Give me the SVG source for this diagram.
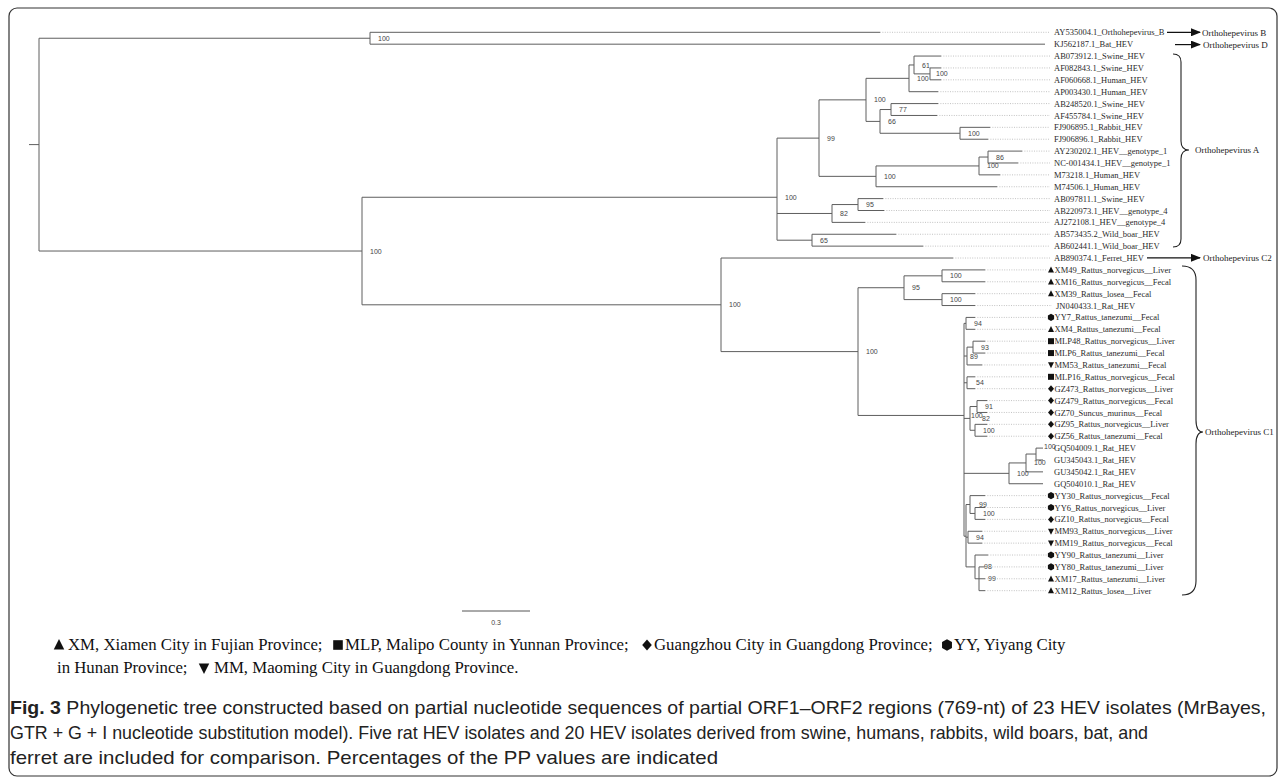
<svg xmlns="http://www.w3.org/2000/svg" xmlns:xlink="http://www.w3.org/1999/xlink" width="1285" height="784" viewBox="0 0 1285 784">
<style>
.br{stroke:#5e5e5e;stroke-width:1;fill:none}
.dt{stroke:#b4b4b4;stroke-width:0.8;stroke-dasharray:1 1.4;fill:none}
.lf{font-family:"Liberation Serif","Times New Roman",serif;font-size:8.5px;fill:#2a2a2a}
.bs{font-family:"Liberation Sans",Arial,sans-serif;font-size:7px;fill:#444}
.cl{font-family:"Liberation Serif","Times New Roman",serif;font-size:9px;fill:#222}
.lg{font-family:"Liberation Serif","Times New Roman",serif;font-size:16.8px;fill:#111}
.cap{font-family:"Liberation Sans Narrow","Liberation Sans",Arial,sans-serif;font-size:18.5px;fill:#222}
.arr{stroke:#111;stroke-width:1.2;fill:none}
.brace{stroke:#222;stroke-width:1.1;fill:none}
</style>
<defs>
<marker id="ah" markerWidth="10" markerHeight="8" refX="9" refY="4" orient="auto" markerUnits="userSpaceOnUse"><path d="M0,0L10,4L0,8Z" fill="#111"/></marker>
<g id="mtu"><polygon points="-3,2.6 3,2.6 0,-3.4" fill="#111"/></g>
<g id="mtd"><polygon points="-3,-2.6 3,-2.6 0,3.4" fill="#111"/></g>
<g id="msq"><rect x="-3" y="-3" width="6" height="6" fill="#111"/></g>
<g id="mdi"><polygon points="0,-3.5 3,0 0,3.5 -3,0" fill="#111"/></g>
<g id="mhx"><polygon points="0,-3.6 3.1,-1.8 3.1,1.8 0,3.6 -3.1,1.8 -3.1,-1.8" fill="#111"/></g>
</defs>
<rect x="9" y="8" width="1268" height="768" rx="8" fill="#fff" stroke="#333" stroke-width="1.2"/>

<g id="connectors">
<path class="br" d="M29,144.6H39M39,38.24V251.03M39,38.24H370M39,251.03H362"/>
<path class="br" d="M370,32.3V44.18M370,32.3H880M370,44.18H1045"/>
<path class="br" d="M362,197.26V304.8M362,197.26H777M362,304.8H721"/>
<path class="br" d="M777,138.11V240.2M777,138.11H819M777,213.47H832M777,240.2H812"/>
<path class="br" d="M819,99.87V176.35M819,99.87H866M819,176.35H876"/>
<path class="br" d="M866,78.34V121.4M866,78.34H909M866,121.4H880"/>
<path class="br" d="M909,64.97V91.7M909,64.97H914M909,91.7H938"/>
<path class="br" d="M914,56.06V73.88M914,56.06H941M914,73.88H930"/>
<path class="br" d="M930,67.94V79.82M930,67.94H941M930,79.82H941"/>
<path class="br" d="M880,109.52V133.28M880,109.52H891M880,133.28H960"/>
<path class="br" d="M891,103.58V115.46M891,103.58H938M891,115.46H937"/>
<path class="br" d="M960,127.34V139.22M960,127.34H990M960,139.22H988"/>
<path class="br" d="M876,165.95V186.74M876,165.95H979M876,186.74H997"/>
<path class="br" d="M979,157.04V174.86M979,157.04H988M979,174.86H1000"/>
<path class="br" d="M988,151.1V162.98M988,151.1H1022M988,162.98H1018"/>
<path class="br" d="M832,204.56V222.38M832,204.56H858M832,222.38H865"/>
<path class="br" d="M858,198.62V210.5M858,198.62H883M858,210.5H884"/>
<path class="br" d="M812,234.26V246.14M812,234.26H896M812,246.14H923"/>
<path class="br" d="M721,258.02V351.6M721,258.02H953M721,351.6H858"/>
<path class="br" d="M858,287.72V415.45M858,287.72H904M858,415.45H964"/>
<path class="br" d="M904,275.84V299.6M904,275.84H942M904,299.6H942"/>
<path class="br" d="M942,269.9V281.78M942,269.9H985M942,281.78H985"/>
<path class="br" d="M942,293.66V305.54M942,293.66H975M942,305.54H975"/>
<path class="br" d="M964,323.36V536.21M964,323.36H966M964,356.03H967M964,382.76H967M964,418.4H970M964,473.35H1009M964,536.21H966"/>
<path class="br" d="M966,317.42V329.3M966,317.42H975M966,329.3H975"/>
<path class="br" d="M967,347.12V364.94M967,347.12H973M967,364.94H982"/>
<path class="br" d="M973,341.18V353.06M973,341.18H985M973,353.06H985"/>
<path class="br" d="M967,376.82V388.7M967,376.82H975M967,388.7H975"/>
<path class="br" d="M970,406.52V430.28M970,406.52H977M970,430.28H975"/>
<path class="br" d="M977,400.58V412.46M977,400.58H987M977,412.46H987"/>
<path class="br" d="M975,424.34V436.22M975,424.34H987M975,436.22H987"/>
<path class="br" d="M1009,462.95V483.74M1009,462.95H1026M1009,483.74H1043"/>
<path class="br" d="M1026,454.04V471.86M1026,454.04H1036M1026,471.86H1043"/>
<path class="br" d="M1036,448.1V459.98M1036,448.1H1043M1036,459.98H1043"/>
<path class="br" d="M966,504.53V566.9M966,504.53H970M966,537.2H968M966,566.9H975"/>
<path class="br" d="M970,495.62V513.44M970,495.62H985M970,513.44H975"/>
<path class="br" d="M975,507.5V519.38M975,507.5H985M975,519.38H985"/>
<path class="br" d="M968,531.26V543.14M968,531.26H982M968,543.14H982"/>
<path class="br" d="M975,555.02V578.78M975,555.02H988M975,578.78H979"/>
<path class="br" d="M979,566.9V590.66M979,566.9H985M979,578.78H985M979,590.66H985"/>
<path class="arr" d="M1167,32.3H1200" marker-end="url(#ah)"/>
<path class="arr" d="M1175,44.6H1200" marker-end="url(#ah)"/>
<path class="arr" d="M1147,257.8H1200" marker-end="url(#ah)"/>
</g>

<g id="support" class="bs">
<text x="378" y="40.7">100</text>
<text x="370" y="253.5">100</text>
<text x="785" y="199.7">100</text>
<text x="827" y="140.6">99</text>
<text x="874" y="102.4">100</text>
<text x="917" y="80.8">100</text>
<text x="922" y="67.5">61</text>
<text x="936" y="76.4">100</text>
<text x="888" y="123.9">66</text>
<text x="899" y="112">77</text>
<text x="968" y="135.8">100</text>
<text x="884" y="178.8">100</text>
<text x="987" y="168.4">100</text>
<text x="996" y="159.5">86</text>
<text x="840" y="216">82</text>
<text x="866" y="207">95</text>
<text x="820" y="242.7">65</text>
<text x="729" y="307.3">100</text>
<text x="866" y="354.1">100</text>
<text x="912" y="290.2">95</text>
<text x="950" y="278.3">100</text>
<text x="950" y="302.1">100</text>
<text x="971" y="417.9">100</text>
<text x="974" y="325.9">94</text>
<text x="970" y="358.5">89</text>
<text x="981" y="349.6">93</text>
<text x="976" y="385.3">54</text>
<text x="982" y="420.9">82</text>
<text x="985" y="409">91</text>
<text x="983" y="432.8">100</text>
<text x="1017" y="475.8">100</text>
<text x="1034" y="465.4">100</text>
<text x="1044" y="449">100</text>
<text x="979" y="507">99</text>
<text x="983" y="515.9">100</text>
<text x="976" y="539.7">94</text>
<text x="984" y="569.4">98</text>
<text x="988" y="581.3">99</text>
</g>

<g id="leaf-01"><path class="dt" d="M880,32.3H1050"/><text class="lf" x="1054" y="35.3">AY535004.1_Orthohepevirus_B</text></g>
<g id="leaf-02"><text class="lf" x="1054" y="47.2">KJ562187.1_Bat_HEV</text></g>
<g id="leaf-03"><path class="dt" d="M941,56.06H1050"/><text class="lf" x="1054" y="59.1">AB073912.1_Swine_HEV</text></g>
<g id="leaf-04"><path class="dt" d="M941,67.94H1050"/><text class="lf" x="1054" y="70.9">AF082843.1_Swine_HEV</text></g>
<g id="leaf-05"><path class="dt" d="M941,79.82H1050"/><text class="lf" x="1054" y="82.8">AF060668.1_Human_HEV</text></g>
<g id="leaf-06"><path class="dt" d="M938,91.7H1050"/><text class="lf" x="1054" y="94.7">AP003430.1_Human_HEV</text></g>
<g id="leaf-07"><path class="dt" d="M938,103.58H1050"/><text class="lf" x="1054" y="106.6">AB248520.1_Swine_HEV</text></g>
<g id="leaf-08"><path class="dt" d="M937,115.46H1050"/><text class="lf" x="1054" y="118.5">AF455784.1_Swine_HEV</text></g>
<g id="leaf-09"><path class="dt" d="M990,127.34H1050"/><text class="lf" x="1054" y="130.3">FJ906895.1_Rabbit_HEV</text></g>
<g id="leaf-10"><path class="dt" d="M988,139.22H1050"/><text class="lf" x="1054" y="142.2">FJ906896.1_Rabbit_HEV</text></g>
<g id="leaf-11"><path class="dt" d="M1022,151.1H1050"/><text class="lf" x="1054" y="154.1">AY230202.1_HEV__genotype_1</text></g>
<g id="leaf-12"><path class="dt" d="M1018,162.98H1050"/><text class="lf" x="1054" y="166">NC-001434.1_HEV__genotype_1</text></g>
<g id="leaf-13"><path class="dt" d="M1000,174.86H1050"/><text class="lf" x="1054" y="177.9">M73218.1_Human_HEV</text></g>
<g id="leaf-14"><path class="dt" d="M997,186.74H1050"/><text class="lf" x="1054" y="189.7">M74506.1_Human_HEV</text></g>
<g id="leaf-15"><path class="dt" d="M883,198.62H1050"/><text class="lf" x="1054" y="201.6">AB097811.1_Swine_HEV</text></g>
<g id="leaf-16"><path class="dt" d="M884,210.5H1050"/><text class="lf" x="1054" y="213.5">AB220973.1_HEV__genotype_4</text></g>
<g id="leaf-17"><path class="dt" d="M865,222.38H1050"/><text class="lf" x="1054" y="225.4">AJ272108.1_HEV__genotype_4</text></g>
<g id="leaf-18"><path class="dt" d="M896,234.26H1050"/><text class="lf" x="1054" y="237.3">AB573435.2_Wild_boar_HEV</text></g>
<g id="leaf-19"><path class="dt" d="M923,246.14H1050"/><text class="lf" x="1054" y="249.1">AB602441.1_Wild_boar_HEV</text></g>
<g id="leaf-20"><path class="dt" d="M953,258.02H1050"/><text class="lf" x="1054" y="261">AB890374.1_Ferret_HEV</text></g>
<g id="leaf-21"><path class="dt" d="M985,269.9H1047"/><use href="#mtu" x="1051" y="269.9"/><text class="lf" x="1054.5" y="272.9">XM49_Rattus_norvegicus__Liver</text></g>
<g id="leaf-22"><path class="dt" d="M985,281.78H1047"/><use href="#mtu" x="1051" y="281.78"/><text class="lf" x="1054.5" y="284.8">XM16_Rattus_norvegicus__Fecal</text></g>
<g id="leaf-23"><path class="dt" d="M975,293.66H1047"/><use href="#mtu" x="1051" y="293.66"/><text class="lf" x="1054.5" y="296.7">XM39_Rattus_losea__Fecal</text></g>
<g id="leaf-24"><path class="dt" d="M975,305.54H1052"/><text class="lf" x="1056" y="308.5">JN040433.1_Rat_HEV</text></g>
<g id="leaf-25"><path class="dt" d="M975,317.42H1047"/><use href="#mhx" x="1051" y="317.42"/><text class="lf" x="1054.5" y="320.4">YY7_Rattus_tanezumi__Fecal</text></g>
<g id="leaf-26"><path class="dt" d="M975,329.3H1047"/><use href="#mtu" x="1051" y="329.3"/><text class="lf" x="1054.5" y="332.3">XM4_Rattus_tanezumi__Fecal</text></g>
<g id="leaf-27"><path class="dt" d="M985,341.18H1047"/><use href="#msq" x="1051" y="341.18"/><text class="lf" x="1054.5" y="344.2">MLP48_Rattus_norvegicus__Liver</text></g>
<g id="leaf-28"><path class="dt" d="M985,353.06H1047"/><use href="#msq" x="1051" y="353.06"/><text class="lf" x="1054.5" y="356.1">MLP6_Rattus_tanezumi__Fecal</text></g>
<g id="leaf-29"><path class="dt" d="M982,364.94H1047"/><use href="#mtd" x="1051" y="364.94"/><text class="lf" x="1054.5" y="367.9">MM53_Rattus_tanezumi__Fecal</text></g>
<g id="leaf-30"><path class="dt" d="M975,376.82H1047"/><use href="#msq" x="1051" y="376.82"/><text class="lf" x="1054.5" y="379.8">MLP16_Rattus_norvegicus__Fecal</text></g>
<g id="leaf-31"><path class="dt" d="M975,388.7H1047"/><use href="#mdi" x="1051" y="388.7"/><text class="lf" x="1054.5" y="391.7">GZ473_Rattus_norvegicus__Liver</text></g>
<g id="leaf-32"><path class="dt" d="M987,400.58H1047"/><use href="#mdi" x="1051" y="400.58"/><text class="lf" x="1054.5" y="403.6">GZ479_Rattus_norvegicus__Fecal</text></g>
<g id="leaf-33"><path class="dt" d="M987,412.46H1047"/><use href="#mdi" x="1051" y="412.46"/><text class="lf" x="1054.5" y="415.5">GZ70_Suncus_murinus__Fecal</text></g>
<g id="leaf-34"><path class="dt" d="M987,424.34H1047"/><use href="#mdi" x="1051" y="424.34"/><text class="lf" x="1054.5" y="427.3">GZ95_Rattus_norvegicus__Liver</text></g>
<g id="leaf-35"><path class="dt" d="M987,436.22H1047"/><use href="#mdi" x="1051" y="436.22"/><text class="lf" x="1054.5" y="439.2">GZ56_Rattus_tanezumi__Fecal</text></g>
<g id="leaf-36"><text class="lf" x="1054" y="451.1">GQ504009.1_Rat_HEV</text></g>
<g id="leaf-37"><text class="lf" x="1054" y="463">GU345043.1_Rat_HEV</text></g>
<g id="leaf-38"><text class="lf" x="1054" y="474.9">GU345042.1_Rat_HEV</text></g>
<g id="leaf-39"><text class="lf" x="1054" y="486.7">GQ504010.1_Rat_HEV</text></g>
<g id="leaf-40"><path class="dt" d="M985,495.62H1047"/><use href="#mhx" x="1051" y="495.62"/><text class="lf" x="1054.5" y="498.6">YY30_Rattus_norvegicus__Fecal</text></g>
<g id="leaf-41"><path class="dt" d="M985,507.5H1047"/><use href="#mhx" x="1051" y="507.5"/><text class="lf" x="1054.5" y="510.5">YY6_Rattus_norvegicus__Liver</text></g>
<g id="leaf-42"><path class="dt" d="M985,519.38H1047"/><use href="#mdi" x="1051" y="519.38"/><text class="lf" x="1054.5" y="522.4">GZ10_Rattus_norvegicus__Fecal</text></g>
<g id="leaf-43"><path class="dt" d="M982,531.26H1047"/><use href="#mtd" x="1051" y="531.26"/><text class="lf" x="1054.5" y="534.3">MM93_Rattus_norvegicus__Liver</text></g>
<g id="leaf-44"><path class="dt" d="M982,543.14H1047"/><use href="#mtd" x="1051" y="543.14"/><text class="lf" x="1054.5" y="546.1">MM19_Rattus_norvegicus__Fecal</text></g>
<g id="leaf-45"><path class="dt" d="M988,555.02H1047"/><use href="#mhx" x="1051" y="555.02"/><text class="lf" x="1054.5" y="558">YY90_Rattus_tanezumi__Liver</text></g>
<g id="leaf-46"><path class="dt" d="M985,566.9H1047"/><use href="#mhx" x="1051" y="566.9"/><text class="lf" x="1054.5" y="569.9">YY80_Rattus_tanezumi__Liver</text></g>
<g id="leaf-47"><path class="dt" d="M985,578.78H1047"/><use href="#mtu" x="1051" y="578.78"/><text class="lf" x="1054.5" y="581.8">XM17_Rattus_tanezumi__Liver</text></g>
<g id="leaf-48"><path class="dt" d="M985,590.66H1047"/><use href="#mtu" x="1051" y="590.66"/><text class="lf" x="1054.5" y="593.7">XM12_Rattus_losea__Liver</text></g>

<g id="clade-B"><text class="cl" x="1202" y="35.5">Orthohepevirus B</text></g>
<g id="clade-D"><text class="cl" x="1203" y="47.8">Orthohepevirus D</text></g>
<g id="clade-A"><path class="brace" d="M1173,54Q1181,54 1181,62V141Q1181,150 1189,150Q1181,150 1181,159V239Q1181,247 1173,247"/><text class="cl" x="1195" y="153.3">Orthohepevirus A</text></g>
<g id="clade-C2"><text class="cl" x="1203" y="261">Orthohepevirus C2</text></g>
<g id="clade-C1"><path class="brace" d="M1182,266Q1196,266 1196,280V420Q1196,432 1203,432Q1196,432 1196,444V581Q1196,595 1182,595"/><text class="cl" x="1205" y="435">Orthohepevirus C1</text></g>

<g id="scale-bar"><path d="M462,611H530" stroke="#555" stroke-width="1"/><text class="bs" x="496" y="625" text-anchor="middle" font-size="6.5">0.3</text></g>

<g id="legend">
<use href="#mtu" transform="translate(59,645) scale(1.75)"/>
<text class="lg" x="68" y="650">XM, Xiamen City in Fujian Province;</text>
<use href="#msq" transform="translate(338,645) scale(1.6)"/>
<text class="lg" x="345" y="650">MLP, Malipo County in Yunnan Province;</text>
<use href="#mdi" transform="translate(647,645) scale(1.6)"/>
<text class="lg" x="654" y="650">Guangzhou City in Guangdong Province;</text>
<use href="#mhx" transform="translate(947,645) scale(1.6)"/>
<text class="lg" x="954" y="650">YY, Yiyang City</text>
<text class="lg" x="57" y="673">in Hunan Province;</text>
<use href="#mtd" transform="translate(204,668) scale(1.75)"/>
<text class="lg" x="214" y="673">MM, Maoming City in Guangdong Province.</text>
</g>

<g id="caption" class="cap">
<text x="10" y="714" textLength="1256" lengthAdjust="spacingAndGlyphs"><tspan font-weight="bold">Fig. 3</tspan> Phylogenetic tree constructed based on partial nucleotide sequences of partial ORF1–ORF2 regions (769-nt) of 23 HEV isolates (MrBayes,</text>
<text x="10" y="739" textLength="1138" lengthAdjust="spacingAndGlyphs">GTR + G + I nucleotide substitution model). Five rat HEV isolates and 20 HEV isolates derived from swine, humans, rabbits, wild boars, bat, and</text>
<text x="10" y="764" textLength="708" lengthAdjust="spacingAndGlyphs">ferret are included for comparison. Percentages of the PP values are indicated</text>
</g>
</svg>
